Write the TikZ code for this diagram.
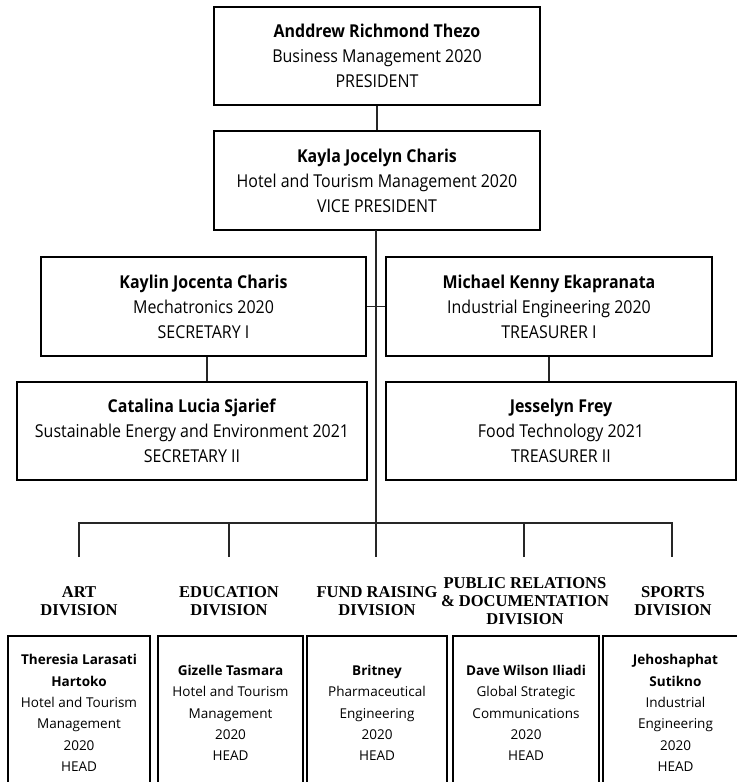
\documentclass[tikz,border=0pt]{standalone}
\usepackage{fontspec}
\setmainfont{Open Sans}
\newfontfamily\boxfont[FakeStretch=0.9]{Open Sans}
\newfontfamily\titlefont{Liberation Serif}
\begin{document}
\begin{tikzpicture}[x=0.75pt,y=-0.75pt,
  box/.style={draw=black,line width=1.5pt,align=center,inner sep=0pt,
    font=\boxfont\fontsize{13.3}{18.75}\selectfont},
  head/.style={draw=black,line width=1.5pt,align=center,inner sep=0pt,
    minimum height=115.5pt,font=\fontsize{10.15}{16}\selectfont},
  divtitle/.style={align=center,inner sep=0pt,
    font=\titlefont\bfseries\fontsize{12.4}{13.5}\selectfont},
  link/.style={line width=1pt,draw=black!85}]
\useasboundingbox (0,0) rectangle (737,782);
\clip (0,0) rectangle (737,782);

% top boxes
\node[box,minimum width=244.5pt,minimum height=73.5pt] (pres) at (377,56)
  {\textbf{Anddrew Richmond Thezo}\\Business Management 2020\\PRESIDENT};
\node[box,minimum width=244.5pt,minimum height=74.25pt] (vp) at (377,180.5)
  {\textbf{Kayla Jocelyn Charis}\\Hotel and Tourism Management 2020\\VICE PRESIDENT};
\node[box,minimum width=243.75pt,minimum height=74.25pt] (sec1) at (203.5,306.5)
  {\textbf{Kaylin Jocenta Charis}\\Mechatronics 2020\\SECRETARY I};
\node[box,minimum width=244.5pt,minimum height=74.25pt] (tre1) at (549,306.5)
  {\textbf{Michael Kenny Ekapranata}\\Industrial Engineering 2020\\TREASURER I};
\node[box,minimum width=262.5pt,minimum height=73.5pt] (sec2) at (192,431)
  {\textbf{Catalina Lucia Sjarief}\\Sustainable Energy and Environment 2021\\SECRETARY II};
\node[box,minimum width=262.5pt,minimum height=73.5pt] (tre2) at (561,431)
  {\textbf{Jesselyn Frey}\\Food Technology 2021\\TREASURER II};

% division titles
\node[divtitle] (t1) at (79,601) {ART\\DIVISION};
\node[divtitle] (t2) at (229,601) {EDUCATION\\DIVISION};
\node[divtitle] (t3) at (377,601) {FUND RAISING\\DIVISION};
\node[divtitle] (t4) at (525,601) {PUBLIC RELATIONS\\\& DOCUMENTATION\\DIVISION};
\node[divtitle] (t5) at (673,601) {SPORTS\\DIVISION};

% heads
\node[head,minimum width=106.5pt] (h1) at (79,713)
  {\textbf{Theresia Larasati}\\\textbf{Hartoko}\\Hotel and Tourism\\Management\\2020\\HEAD};
\node[head,minimum width=108.75pt] (h2) at (230.5,713)
  {\textbf{Gizelle Tasmara}\\Hotel and Tourism\\Management\\2020\\HEAD};
\node[head,minimum width=105pt] (h3) at (377,713)
  {\textbf{Britney}\\Pharmaceutical\\Engineering\\2020\\HEAD};
\node[head,minimum width=109.5pt] (h4) at (526,713)
  {\textbf{Dave Wilson Iliadi}\\Global Strategic\\Communications\\2020\\HEAD};
\node[head,minimum width=108.75pt] (h5) at (675.5,713)
  {\textbf{Jehoshaphat}\\\textbf{Sutikno}\\Industrial\\Engineering\\2020\\HEAD};

% connectors
\coordinate (d1) at (79,557);
\coordinate (d2) at (229,557);
\coordinate (d3) at (376,557);
\coordinate (d4) at (524,557);
\coordinate (d5) at (672,557);
\coordinate (bl) at (79,523);
\coordinate (br) at (672,523);
\coordinate (vpb) at (376,230);

\draw[link] (pres.south) -- (vp.north);
\draw[link] (vpb) -- (d3);
\draw[link] (sec1.east) -- (sec1.east -| vpb);
\draw[link] (tre1.west) -- (tre1.west -| vpb);
\draw[link] (sec1.south) ++(3.5,0) coordinate (s1s) -- (s1s |- sec2.north);
\draw[link] (tre1.south) -- (tre1.south |- tre2.north);
\draw[link] (d1) -- (bl) -- (br) -- (d5);
\draw[link] (d2) -- (d2 |- bl);
\draw[link] (d4) -- (d4 |- bl);
\end{tikzpicture}
\end{document}
